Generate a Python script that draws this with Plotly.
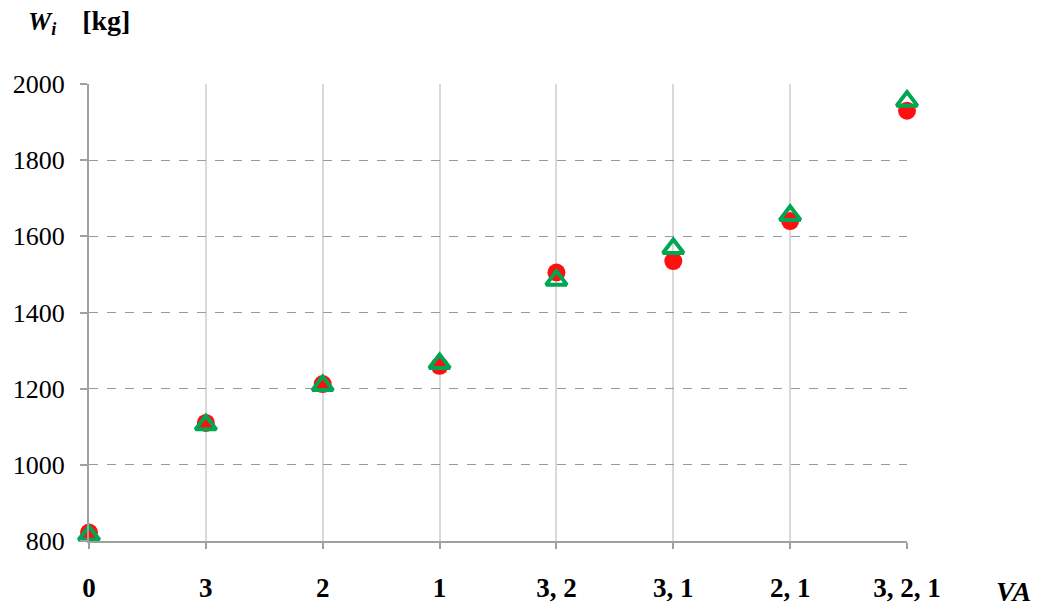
import plotly.graph_objects as go

categories = ["0", "3", "2", "1", "3, 2", "3, 1", "2, 1", "3, 2, 1"]
series_red = [822, 1110, 1212, 1260, 1505, 1535, 1640, 1930]
series_green = [815, 1105, 1208, 1266, 1485, 1568, 1655, 1955]
y_ticks = [800, 1000, 1200, 1400, 1600, 1800, 2000]

x_idx = list(range(len(categories)))

W, H = 1042, 609
L, T = 89, 84
R = W - 907
B = H - 541
pw = W - L - R
ph = H - T - B


def px_x(x):
    return (x - L) / pw


def px_y(y):
    return (H - B - y) / ph


fig = go.Figure()
fig.add_trace(go.Scatter(
    x=x_idx, y=series_red, mode="markers", cliponaxis=False,
    marker=dict(symbol="circle", size=18, color="#ff1010", line=dict(width=0)),
    showlegend=False))
fig.add_trace(go.Scatter(
    x=x_idx, y=series_green, mode="markers", cliponaxis=False,
    marker=dict(symbol="triangle-up-open", size=18, color="#00a651",
                line=dict(width=4, color="#00a651")),
    showlegend=False))

fig.update_layout(
    width=W, height=H,
    margin=dict(l=L, r=R, t=T, b=B),
    paper_bgcolor="white", plot_bgcolor="white",
    font=dict(family="Liberation Serif", color="black"),
    xaxis=dict(
        range=[0, len(categories) - 1], automargin=False,
        tickvals=x_idx, ticktext=categories,
        showgrid=True, gridcolor="#d9d9d9", gridwidth=1.5,
        zeroline=False, showline=True, linecolor="#a0a0a0", linewidth=2,
        ticks="outside", ticklen=6, tickcolor="#a0a0a0", tickwidth=2,
        tickfont=dict(family="Liberation Serif", size=27, color="black", weight="bold"),
        ticklabelstandoff=16,
    ),
    yaxis=dict(
        range=[800, 2000], tickvals=y_ticks, automargin=False,
        showgrid=True, gridcolor="#999999", griddash="dash", gridwidth=1,
        zeroline=False, showline=True, linecolor="#a0a0a0", linewidth=2,
        ticks="outside", ticklen=7, tickcolor="#a0a0a0", tickwidth=2,
        tickfont=dict(family="Liberation Serif", size=26, color="black"),
        ticklabelstandoff=10,
    ),
    annotations=[
        dict(text="<b><i>W<sub>i</sub></i>&nbsp;&nbsp;&nbsp;&nbsp;<span style='font-size:28px'>[kg]</span></b>",
             xref="paper", yref="paper",
             x=px_x(26), y=px_y(22), xanchor="left", yanchor="middle",
             showarrow=False, font=dict(family="Liberation Serif", size=26, color="black")),
        dict(text="<b><i>VA</i></b>", xref="paper", yref="paper",
             x=px_x(1014), y=px_y(591), xanchor="center", yanchor="middle",
             showarrow=False, font=dict(family="Liberation Serif", size=28, color="black")),
    ],
)

fig.write_html("out.html", config={"displayModeBar": False},
               post_script="document.body.style.margin='0';")
